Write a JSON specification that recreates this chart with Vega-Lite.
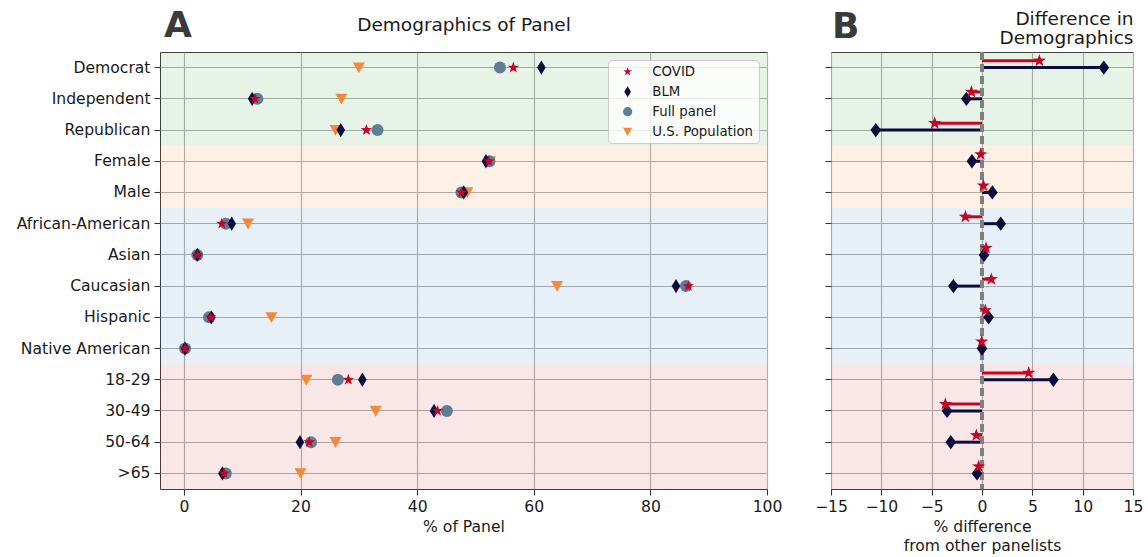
{
  "$schema": "https://vega.github.io/schema/vega-lite/v6.json",
  "padding": {"left": 15, "top": 7, "right": 5, "bottom": 2},
  "background": "white",
  "config": {
    "font": "DejaVu Sans",
    "view": {"stroke": "#3d3d3d", "strokeWidth": 1},
    "axis": {"labelFont": "DejaVu Sans", "labelFontSize": 15.6, "labelColor": "#1a1a1a", "titleFont": "DejaVu Sans", "titleFontSize": 15.6, "titleFontWeight": "normal", "titleColor": "#1a1a1a", "tickColor": "#333333", "tickSize": 6, "tickWidth": 1.1, "gridColor": "#b0b0b0", "gridWidth": 1.1, "domain": false, "labelPadding": 4, "zindex": 0, "labelFlush": false, "labelOverlap": false},
    "title": {"font": "DejaVu Sans"}
  },
  "datasets": {
    "cats": [
      {"cat": "Democrat", "group": "party"}, {"cat": "Independent", "group": "party"}, {"cat": "Republican", "group": "party"},
      {"cat": "Female", "group": "sex"}, {"cat": "Male", "group": "sex"},
      {"cat": "African-American", "group": "race"}, {"cat": "Asian", "group": "race"}, {"cat": "Caucasian", "group": "race"}, {"cat": "Hispanic", "group": "race"}, {"cat": "Native American", "group": "race"},
      {"cat": "18-29", "group": "age"}, {"cat": "30-49", "group": "age"}, {"cat": "50-64", "group": "age"}, {"cat": ">65", "group": "age"}
    ],
    "panel": [
      {"series": "U.S. Population", "cat": "Democrat", "value": 30.0},
      {"series": "U.S. Population", "cat": "Independent", "value": 27.0},
      {"series": "U.S. Population", "cat": "Republican", "value": 26.0},
      {"series": "U.S. Population", "cat": "Female", "value": 52.5},
      {"series": "U.S. Population", "cat": "Male", "value": 48.6},
      {"series": "U.S. Population", "cat": "African-American", "value": 11.0},
      {"series": "U.S. Population", "cat": "Caucasian", "value": 64.0},
      {"series": "U.S. Population", "cat": "Hispanic", "value": 15.0},
      {"series": "U.S. Population", "cat": "18-29", "value": 21.0},
      {"series": "U.S. Population", "cat": "30-49", "value": 32.9},
      {"series": "U.S. Population", "cat": "50-64", "value": 26.0},
      {"series": "U.S. Population", "cat": ">65", "value": 20.0},
      {"series": "Full panel", "cat": "Democrat", "value": 54.2},
      {"series": "Full panel", "cat": "Independent", "value": 12.6},
      {"series": "Full panel", "cat": "Republican", "value": 33.2},
      {"series": "Full panel", "cat": "Female", "value": 52.4},
      {"series": "Full panel", "cat": "Male", "value": 47.6},
      {"series": "Full panel", "cat": "African-American", "value": 7.2},
      {"series": "Full panel", "cat": "Asian", "value": 2.3},
      {"series": "Full panel", "cat": "Caucasian", "value": 86.1},
      {"series": "Full panel", "cat": "Hispanic", "value": 4.3},
      {"series": "Full panel", "cat": "Native American", "value": 0.2},
      {"series": "Full panel", "cat": "18-29", "value": 26.4},
      {"series": "Full panel", "cat": "30-49", "value": 45.1},
      {"series": "Full panel", "cat": "50-64", "value": 21.8},
      {"series": "Full panel", "cat": ">65", "value": 7.2},
      {"series": "BLM", "cat": "Democrat", "value": 61.3},
      {"series": "BLM", "cat": "Independent", "value": 11.7},
      {"series": "BLM", "cat": "Republican", "value": 26.9},
      {"series": "BLM", "cat": "Female", "value": 51.8},
      {"series": "BLM", "cat": "Male", "value": 48.0},
      {"series": "BLM", "cat": "African-American", "value": 8.2},
      {"series": "BLM", "cat": "Asian", "value": 2.3},
      {"series": "BLM", "cat": "Caucasian", "value": 84.4},
      {"series": "BLM", "cat": "Hispanic", "value": 4.7},
      {"series": "BLM", "cat": "Native American", "value": 0.2},
      {"series": "BLM", "cat": "18-29", "value": 30.6},
      {"series": "BLM", "cat": "30-49", "value": 42.9},
      {"series": "BLM", "cat": "50-64", "value": 19.9},
      {"series": "BLM", "cat": ">65", "value": 6.6},
      {"series": "COVID", "cat": "Democrat", "value": 56.5},
      {"series": "COVID", "cat": "Independent", "value": 12.2},
      {"series": "COVID", "cat": "Republican", "value": 31.3},
      {"series": "COVID", "cat": "Female", "value": 52.3},
      {"series": "COVID", "cat": "Male", "value": 47.6},
      {"series": "COVID", "cat": "African-American", "value": 6.5},
      {"series": "COVID", "cat": "Asian", "value": 2.3},
      {"series": "COVID", "cat": "Caucasian", "value": 86.5},
      {"series": "COVID", "cat": "Hispanic", "value": 4.6},
      {"series": "COVID", "cat": "Native American", "value": 0.2},
      {"series": "COVID", "cat": "18-29", "value": 28.2},
      {"series": "COVID", "cat": "30-49", "value": 43.5},
      {"series": "COVID", "cat": "50-64", "value": 21.5},
      {"series": "COVID", "cat": ">65", "value": 6.9}
    ],
    "diff": [
      {"series": "COVID", "cat": "Democrat", "value": 5.7},
      {"series": "COVID", "cat": "Independent", "value": -1.05},
      {"series": "COVID", "cat": "Republican", "value": -4.7},
      {"series": "COVID", "cat": "Female", "value": -0.13},
      {"series": "COVID", "cat": "Male", "value": 0.14},
      {"series": "COVID", "cat": "African-American", "value": -1.65},
      {"series": "COVID", "cat": "Asian", "value": 0.4},
      {"series": "COVID", "cat": "Caucasian", "value": 0.93},
      {"series": "COVID", "cat": "Hispanic", "value": 0.33},
      {"series": "COVID", "cat": "Native American", "value": -0.03},
      {"series": "COVID", "cat": "18-29", "value": 4.64},
      {"series": "COVID", "cat": "30-49", "value": -3.64},
      {"series": "COVID", "cat": "50-64", "value": -0.56},
      {"series": "COVID", "cat": ">65", "value": -0.33},
      {"series": "BLM", "cat": "Democrat", "value": 12.1},
      {"series": "BLM", "cat": "Independent", "value": -1.55},
      {"series": "BLM", "cat": "Republican", "value": -10.55},
      {"series": "BLM", "cat": "Female", "value": -1.0},
      {"series": "BLM", "cat": "Male", "value": 1.03},
      {"series": "BLM", "cat": "African-American", "value": 1.86},
      {"series": "BLM", "cat": "Asian", "value": 0.2},
      {"series": "BLM", "cat": "Caucasian", "value": -2.84},
      {"series": "BLM", "cat": "Hispanic", "value": 0.66},
      {"series": "BLM", "cat": "Native American", "value": 0.0},
      {"series": "BLM", "cat": "18-29", "value": 7.09},
      {"series": "BLM", "cat": "30-49", "value": -3.47},
      {"series": "BLM", "cat": "50-64", "value": -3.1},
      {"series": "BLM", "cat": ">65", "value": -0.5}
    ]
  },
  "bounds": "flush",
  "spacing": 64,
  "resolve": {"legend": {"color": "independent", "shape": "independent"}, "scale": {"color": "independent", "shape": "independent", "fill": "independent"}},
  "hconcat": [
    {
      "width": 607,
      "height": 437,
      "title": {"text": "A", "anchor": "start", "frame": "group", "fontSize": 36, "fontWeight": "bold", "color": "#3a3a3a", "dx": 4, "dy": 35, "offset": -23, "baseline": "alphabetic"},
      "resolve": {"axis": {"x": "independent"}},
      "layer": [
        {
          "data": {"name": "cats"},
          "mark": {"type": "rect", "opacity": 0.1},
          "encoding": {
            "y": {"field": "cat", "type": "nominal", "scale": {"domain": ["Democrat", "Independent", "Republican", "Female", "Male", "African-American", "Asian", "Caucasian", "Hispanic", "Native American", "18-29", "30-49", "50-64", ">65"], "paddingInner": 0, "paddingOuter": 0}, "axis": {"title": null, "grid": true, "ticks": true, "labels": true, "zindex": 0}},
            "fill": {"field": "group", "type": "nominal", "scale": {"domain": ["party", "sex", "race", "age"], "range": ["#19870f", "#eb6905", "#0f5faf", "#c30f0f"]}, "legend": null}
          }
        },
        {
          "data": {"name": "panel"},
          "mark": {"type": "point", "filled": true, "opacity": 1, "size": 144, "strokeWidth": 0},
          "encoding": {
            "x": {"field": "value", "type": "quantitative", "scale": {"domain": [-4.1, 100], "nice": false, "zero": false}, "axis": {"orient": "bottom", "values": [0, 20, 40, 60, 80, 100], "title": "% of Panel", "grid": true, "titlePadding": 5, "zindex": 0}},
            "y": {"field": "cat", "type": "nominal", "scale": {"domain": ["Democrat", "Independent", "Republican", "Female", "Male", "African-American", "Asian", "Caucasian", "Hispanic", "Native American", "18-29", "30-49", "50-64", ">65"], "paddingInner": 0, "paddingOuter": 0}, "axis": {"title": null, "grid": true, "ticks": true, "labels": true, "zindex": 0}},
            "color": {"field": "series", "type": "nominal", "scale": {"domain": ["COVID", "BLM", "Full panel", "U.S. Population"], "range": ["#c40525", "#0d0d3d", "#5f7d95", "#f5883a"]},
              "legend": {"orient": "top-right", "offset": 8, "title": null, "fillColor": "rgba(255,255,255,0.8)", "strokeColor": "#cccccc", "cornerRadius": 4, "padding": 5, "labelFontSize": 13.3, "labelFont": "DejaVu Sans", "labelColor": "#1a1a1a", "symbolSize": 85, "rowPadding": 6, "symbolOffset": 8, "labelOffset": 18, "symbolStrokeWidth": 0}},
            "shape": {"field": "series", "type": "nominal", "scale": {"domain": ["COVID", "BLM", "Full panel", "U.S. Population"], "range": ["M0,-1L0.235,-0.324L0.951,-0.309L0.38,0.124L0.588,0.809L0,0.4L-0.588,0.809L-0.38,0.124L-0.951,-0.309L-0.235,-0.324Z", "M0,-1.19L0.72,0L0,1.19L-0.72,0Z", "circle", "M-1,-0.85L1,-0.85L0,0.95Z"]},
              "legend": {"orient": "top-right", "offset": 8, "title": null, "fillColor": "rgba(255,255,255,0.8)", "strokeColor": "#cccccc", "cornerRadius": 4, "padding": 5, "labelFontSize": 13.3, "labelFont": "DejaVu Sans", "labelColor": "#1a1a1a", "symbolSize": 85, "rowPadding": 6, "symbolOffset": 8, "labelOffset": 18, "symbolStrokeWidth": 0}}
          }
        },
        {
          "data": {"name": "cats"},
          "mark": {"type": "point", "opacity": 0},
          "encoding": {
            "x": {"datum": 0, "type": "quantitative", "scale": {"domain": [-4.1, 100], "nice": false, "zero": false}, "axis": {"orient": "top", "title": "Demographics of Panel", "labels": false, "ticks": false, "tickSize": 0, "grid": false, "domain": false, "titleFontSize": 18.5, "titlePadding": 18, "zindex": 0}}
          }
        }
      ]
    },
    {
      "width": 302,
      "height": 437,
      "title": {"text": "B", "anchor": "start", "frame": "group", "fontSize": 36, "fontWeight": "bold", "color": "#3a3a3a", "dx": 1, "dy": 35, "offset": -30, "baseline": "alphabetic"},
      "resolve": {"axis": {"x": "independent"}},
      "layer": [
        {
          "data": {"name": "cats"},
          "mark": {"type": "rect", "opacity": 0.1},
          "encoding": {
            "y": {"field": "cat", "type": "nominal", "scale": {"domain": ["Democrat", "Independent", "Republican", "Female", "Male", "African-American", "Asian", "Caucasian", "Hispanic", "Native American", "18-29", "30-49", "50-64", ">65"], "paddingInner": 0, "paddingOuter": 0}, "axis": {"title": null, "grid": true, "ticks": true, "labels": false, "zindex": 0}},
            "fill": {"field": "group", "type": "nominal", "scale": {"domain": ["party", "sex", "race", "age"], "range": ["#19870f", "#eb6905", "#0f5faf", "#c30f0f"]}, "legend": null}
          }
        },
        {
          "data": {"name": "diff"},
          "transform": [{"filter": "datum.series === 'COVID'"}],
          "mark": {"type": "rule", "color": "#c40525", "strokeWidth": 3},
          "encoding": {
            "x": {"field": "value", "type": "quantitative", "scale": {"domain": [-15, 15], "nice": false, "zero": false}, "axis": null},
            "x2": {"datum": 0},
            "y": {"field": "cat", "type": "nominal", "bandPosition": 0.28, "scale": {"domain": ["Democrat", "Independent", "Republican", "Female", "Male", "African-American", "Asian", "Caucasian", "Hispanic", "Native American", "18-29", "30-49", "50-64", ">65"], "paddingInner": 0, "paddingOuter": 0}, "axis": {"title": null, "grid": true, "ticks": true, "labels": false, "zindex": 0}}
          }
        },
        {
          "data": {"name": "diff"},
          "transform": [{"filter": "datum.series === 'BLM'"}],
          "mark": {"type": "rule", "color": "#0d0d3d", "strokeWidth": 3},
          "encoding": {
            "x": {"field": "value", "type": "quantitative", "scale": {"domain": [-15, 15], "nice": false, "zero": false}, "axis": null},
            "x2": {"datum": 0},
            "y": {"field": "cat", "type": "nominal", "scale": {"domain": ["Democrat", "Independent", "Republican", "Female", "Male", "African-American", "Asian", "Caucasian", "Hispanic", "Native American", "18-29", "30-49", "50-64", ">65"], "paddingInner": 0, "paddingOuter": 0}, "axis": {"title": null, "grid": true, "ticks": true, "labels": false, "zindex": 0}}
          }
        },
        {
          "data": {"name": "cats"},
          "mark": {"type": "rule", "color": "#808080", "strokeWidth": 2.5, "strokeDash": [8, 4]},
          "encoding": {
            "x": {"datum": 0, "type": "quantitative", "scale": {"domain": [-15, 15], "nice": false, "zero": false}, "axis": null}
          }
        },
        {
          "data": {"name": "diff"},
          "transform": [{"filter": "datum.series === 'BLM'"}],
          "mark": {"type": "point", "filled": true, "opacity": 1, "strokeWidth": 0, "color": "#0d0d3d", "size": 204, "shape": "M0,-1L0.75,0L0,1L-0.75,0Z"},
          "encoding": {
            "x": {"field": "value", "type": "quantitative", "scale": {"domain": [-15, 15], "nice": false, "zero": false}, "axis": {"orient": "bottom", "values": [-15, -10, -5, 0, 5, 10, 15], "title": ["% difference", "from other panelists"], "titleLineHeight": 19, "grid": true, "titlePadding": 5, "zindex": 0}},
            "y": {"field": "cat", "type": "nominal", "scale": {"domain": ["Democrat", "Independent", "Republican", "Female", "Male", "African-American", "Asian", "Caucasian", "Hispanic", "Native American", "18-29", "30-49", "50-64", ">65"], "paddingInner": 0, "paddingOuter": 0}, "axis": {"title": null, "grid": true, "ticks": true, "labels": false, "zindex": 0}}
          }
        },
        {
          "data": {"name": "diff"},
          "transform": [{"filter": "datum.series === 'COVID'"}],
          "mark": {"type": "point", "filled": true, "opacity": 1, "strokeWidth": 0, "color": "#c40525", "size": 187, "shape": "M0,-1L0.235,-0.324L0.951,-0.309L0.38,0.124L0.588,0.809L0,0.4L-0.588,0.809L-0.38,0.124L-0.951,-0.309L-0.235,-0.324Z"},
          "encoding": {
            "x": {"field": "value", "type": "quantitative", "scale": {"domain": [-15, 15], "nice": false, "zero": false}, "axis": null},
            "y": {"field": "cat", "type": "nominal", "bandPosition": 0.28, "scale": {"domain": ["Democrat", "Independent", "Republican", "Female", "Male", "African-American", "Asian", "Caucasian", "Hispanic", "Native American", "18-29", "30-49", "50-64", ">65"], "paddingInner": 0, "paddingOuter": 0}, "axis": {"title": null, "grid": true, "ticks": true, "labels": false, "zindex": 0}}
          }
        },
        {
          "data": {"name": "cats"},
          "mark": {"type": "point", "opacity": 0},
          "encoding": {
            "x": {"datum": 0, "type": "quantitative", "scale": {"domain": [-15, 15], "nice": false, "zero": false}, "axis": {"orient": "top", "title": ["Difference in", "Demographics"], "titleAnchor": "end", "titleLineHeight": 19, "labels": false, "ticks": false, "tickSize": 0, "grid": false, "domain": false, "titleFontSize": 18.5, "titlePadding": 5, "zindex": 0}}
          }
        }
      ]
    }
  ]
}
